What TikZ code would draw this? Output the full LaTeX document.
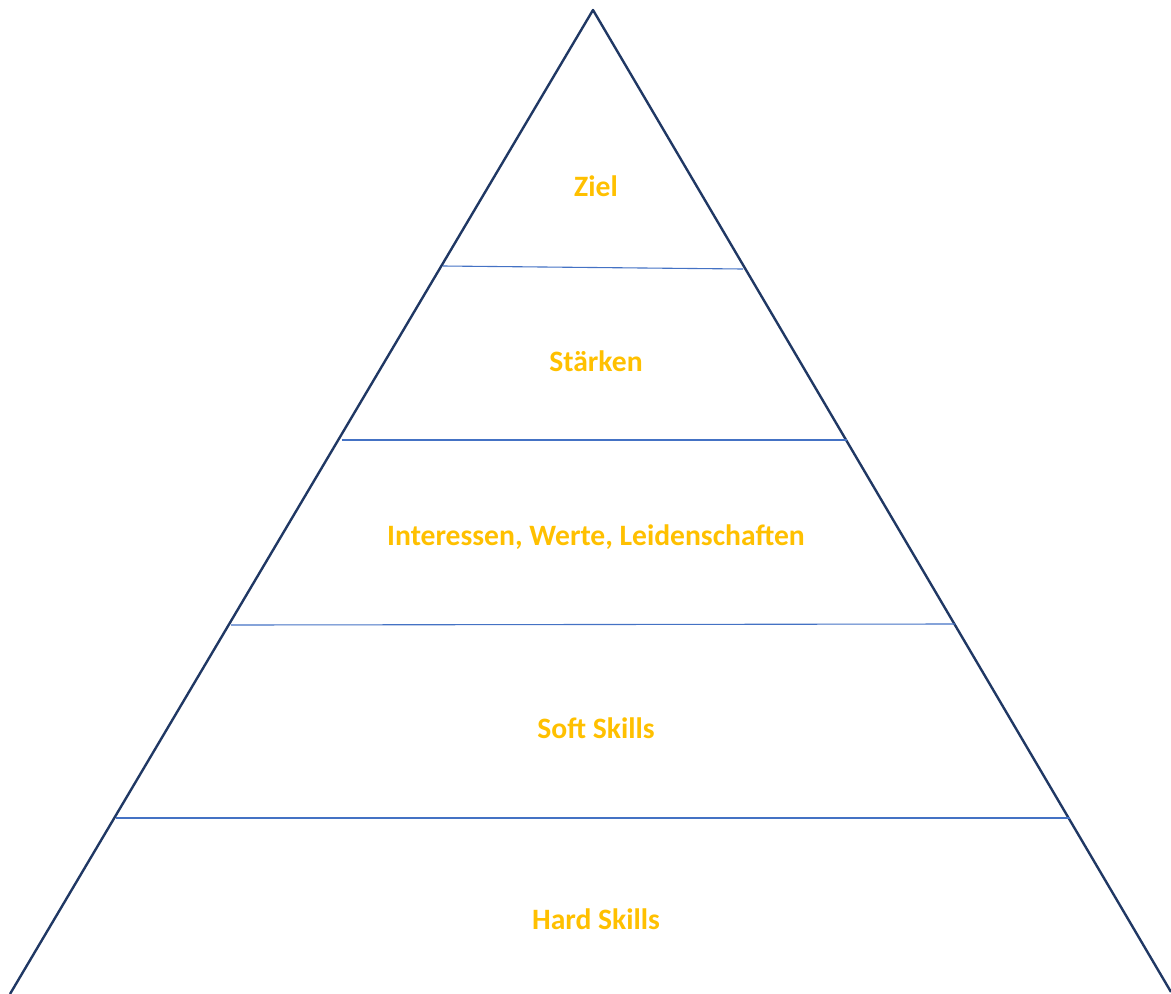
\documentclass[tikz,border=0pt]{standalone}
\usepackage{fontspec}
\setmainfont{Carlito}
\definecolor{navy}{HTML}{203864}
\definecolor{sepblue}{HTML}{4472C4}
\definecolor{gold}{HTML}{FFC000}
\tikzset{
  pyr/.style={draw=navy, line width=2.4pt, line join=round},
  sep/.style={draw=sepblue, line width=1.1pt},
  lbl/.style={text=gold, font=\fontsize{29.6}{34}\selectfont\bfseries, inner sep=0pt}
}
\begin{document}
\begin{tikzpicture}[x=1pt,y=-1pt]
\useasboundingbox (0,0) rectangle (1171,994);
\coordinate (apex) at (593,10);
\coordinate (bl) at (10,994);
\coordinate (br) at (1171,992);
\draw[pyr] (bl) -- (apex) -- (br);
\coordinate (s1l) at (443,266); \coordinate (s1r) at (743,269);
\coordinate (s2l) at (342,440); \coordinate (s2r) at (847,440);
\coordinate (s3l) at (231,625); \coordinate (s3r) at (955,624);
\coordinate (s4l) at (116,818); \coordinate (s4r) at (1070,818);
\draw[sep] (s1l) -- (s1r);
\draw[sep] (s2l) -- (s2r);
\draw[sep] (s3l) -- (s3r);
\draw[sep] (s4l) -- (s4r);
\node[lbl] (ziel) at (596,186) {Ziel};
\node[lbl] (staerken) at (596,361) {Stärken};
\node[lbl] (interessen) at (596,537) {Interessen, Werte, Leidenschaften};
\node[lbl] (soft) at (596,728) {Soft Skills};
\node[lbl] (hard) at (596,919) {Hard Skills};
\end{tikzpicture}
\end{document}
